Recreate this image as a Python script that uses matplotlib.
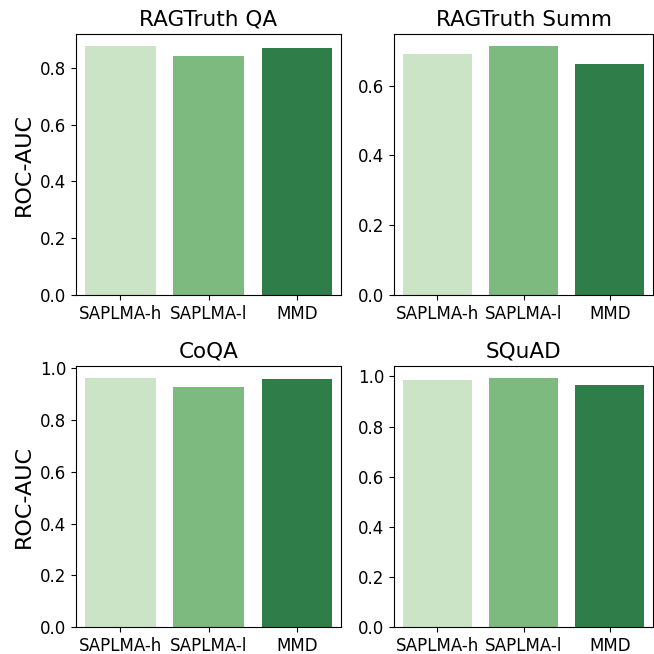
import matplotlib
matplotlib.use("Agg")
import matplotlib.pyplot as plt
import seaborn as sns
import pandas as pd

methods = ["SAPLMA-h", "SAPLMA-l", "MMD"]
titles = ["RAGTruth QA", "RAGTruth Summ", "CoQA", "SQuAD"]
rag_qa = [0.875, 0.843, 0.871]
rag_summ = [0.691, 0.712, 0.663]
coqa = [0.961, 0.927, 0.958]
squad = [0.984, 0.992, 0.965]
all_vals = [rag_qa, rag_summ, coqa, squad]

W = 654.0
positions = [
    (76 / W, 1 - 295 / W, 265 / W, 261 / W),
    (394 / W, 1 - 295 / W, 259 / W, 261 / W),
    (76 / W, 1 - 627 / W, 265 / W, 261 / W),
    (394 / W, 1 - 627 / W, 259 / W, 261 / W),
]

fig = plt.figure(figsize=(6.54, 6.54), dpi=100)
for i, (pos, title, vals) in enumerate(zip(positions, titles, all_vals)):
    ax = fig.add_axes(pos)
    df = pd.DataFrame({"method": methods, "auc": vals})
    sns.barplot(data=df, x="method", y="auc", hue="method", palette="Greens",
                legend=False, ax=ax, saturation=0.75)
    ax.set_title(title, fontsize=15.5)
    ax.set_xlabel("")
    if i % 2 == 0:
        ax.set_ylabel("ROC-AUC", fontsize=16)
    else:
        ax.set_ylabel("")
    ax.tick_params(labelsize=12)
fig.savefig("out.png", dpi=100)
